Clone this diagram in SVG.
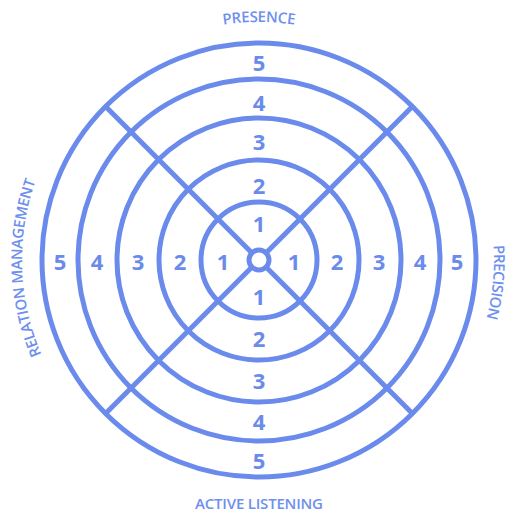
<svg xmlns="http://www.w3.org/2000/svg" width="510" height="514" viewBox="0 0 510 514">
<style>
.ring{fill:none;stroke:#6B8BEC;stroke-width:5}
.num{font-family:"Open Sans","Liberation Sans",sans-serif;font-weight:700;font-size:22px;fill:#6B8BEC;text-anchor:middle;dominant-baseline:central}
.lab{font-family:"Open Sans","Liberation Sans",sans-serif;font-weight:600;font-size:15px;fill:#6E8FEE;text-anchor:middle}
</style>
<defs>
<path id="arcTop" d="M 21,260 A 238 238 0 0 1 497,260"/>
<path id="arcLeft" d="M 259,497 A 237 237 0 0 1 259,23"/>
<path id="arcRight" d="M 259,25 A 235 235 0 0 1 259,495"/>
</defs>
<rect width="510" height="514" fill="#FFFFFF"/>
<g id="rings">
<circle class="ring" cx="259" cy="260" r="217"/>
<circle class="ring" cx="259" cy="260" r="181"/>
<circle class="ring" cx="259" cy="260" r="142"/>
<circle class="ring" cx="259" cy="260" r="100"/>
<circle class="ring" cx="259" cy="260" r="58"/>
</g>
<g id="connectors">
<line class="ring" x1="105.6" y1="106.6" x2="412.4" y2="413.4"/>
<line class="ring" x1="412.4" y1="106.6" x2="105.6" y2="413.4"/>
</g>
<g id="center">
<circle cx="259" cy="260" r="10" fill="#FFFFFF" stroke="#6B8BEC" stroke-width="5"/>
</g>
<g id="numbers-top">
<text class="num" x="259" y="223">1</text>
<text class="num" x="259" y="185">2</text>
<text class="num" x="259" y="141">3</text>
<text class="num" x="259" y="102">4</text>
<text class="num" x="259" y="62">5</text>
</g>
<g id="numbers-bottom">
<text class="num" x="259" y="296">1</text>
<text class="num" x="259" y="338">2</text>
<text class="num" x="259" y="380">3</text>
<text class="num" x="259" y="421">4</text>
<text class="num" x="259" y="460">5</text>
</g>
<g id="numbers-left">
<text class="num" x="223" y="261">1</text>
<text class="num" x="180" y="261">2</text>
<text class="num" x="138" y="261">3</text>
<text class="num" x="97" y="261">4</text>
<text class="num" x="60" y="261">5</text>
</g>
<g id="numbers-right">
<text class="num" x="294" y="261">1</text>
<text class="num" x="337" y="261">2</text>
<text class="num" x="379" y="261">3</text>
<text class="num" x="420" y="261">4</text>
<text class="num" x="457" y="261">5</text>
</g>
<g id="label-presence">
<text class="lab"><textPath href="#arcTop" startOffset="50%" textLength="72">PRESENCE</textPath></text>
</g>
<g id="label-relation">
<text class="lab"><textPath href="#arcLeft" startOffset="364" textLength="178">RELATION MANAGEMENT</textPath></text>
</g>
<g id="label-precision">
<text class="lab"><textPath href="#arcRight" startOffset="391" textLength="74">PRECISION</textPath></text>
</g>
<g id="label-active">
<text class="lab" x="259" y="509" textLength="128">ACTIVE LISTENING</text>
</g>
</svg>
